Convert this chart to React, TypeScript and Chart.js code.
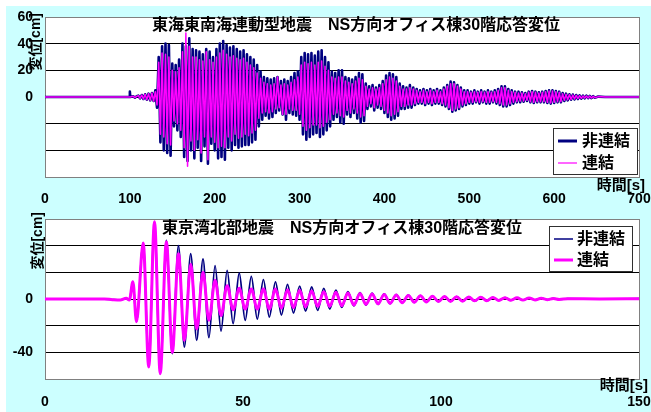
import React, { useEffect, useRef } from "react";
import { Chart, registerables } from "chart.js";

Chart.register(...registerables);

// ---------------- Data: 東海東南海連動型地震 (top) ----------------
const seriesNames = ["非連結", "連結"];

const tokaiXTicks = [0, 100, 200, 300, 400, 500, 600, 700];
const tokaiYTickLabels = [60, 40, 20, 0];

const tokaiLeadTimes = [0, 99.5, 100, 100.5, 104, 106, 108];
const tokaiLeadNonLinked = [0, 0, 4, 0, 0.5, -0.5, 0.5];
const tokaiLeadLinked = [0, 0, 0, 0, 0.5, -0.5, 0.5];

// samples every 2 s starting at 110 s
const tokaiStart = 110;
const tokaiStep = 2;
const tokaiNonLinked = [
  1, -1, 1.5, -1.5, 2, -2, 2.5, -2.5, 3, -3,
  5, -8, 30, -34, 38, -40, 40, -42, 39, -44,
  25, -22, 24, -25, 28, -30, 40, -45, 38, -48,
  44, -40, 36, -46, 35, -38, 34, -48, 32, -37,
  36, -50, 34, -35, 30, -40, 36, -46, 40, -45,
  42, -47, 39, -38, 37, -40, 38, -36, 36, -38,
  34, -37, 35, -36, 32, -36, 30, -34, 28, -32,
  24, -22, 19, -17, 15, -14, 14, -16, 13, -15,
  14, -12, 15, -10, 12, -13, 13, -17, 12, -12,
  15, -13, 18, -14, 19, -17, 30, -28, 33, -32,
  32, -30, 33, -28, 31, -27, 34, -30, 35, -28,
  30, -25, 26, -22, 19, -17, 18, -15, 20, -19,
  20, -20, 15, -13, 14, -15, 13, -12, 15, -16,
  18, -19, 17, -18, 10, -9, 8, -7, 9, -10,
  7, -8, 9, -9, 12, -12, 16, -15, 18, -17,
  17, -16, 15, -14, 10, -9, 8, -9, 7, -8,
  9, -8, 7, -6, 6, -5, 5, -5, 6, -6,
  5, -5, 6, -6, 5, -5, 6, -5, 5, -6,
  7, -7, 9, -9, 11.5, -11, 11, -10, 9, -9,
  7, -7, 5, -6, 5, -5, 4, -5, 5, -4,
  4, -5, 5, -4, 4, -5, 5, -5, 4, -4,
  5, -5, 6, -6, 8, -7, 8, -7, 6, -6,
  5, -5, 4, -4, 4, -4, 3.5, -3.5, 3, -3,
  4, -4, 4.5, -4.5, 4, -4, 3.5, -4, 4, -4,
  4.5, -4.5, 5, -5, 5, -4.5, 4.5, -4, 4, -4,
  3, -3, 2.5, -2.5, 2, -2, 1.8, -1.8, 1.5, -1.5,
  1.2, -1.2, 1, -1, 1, -0.8, 0.8, -0.8, 0.6, -0.6,
];
const tokaiLinked = [
  1, -1, 1.5, -1.5, 2, -2, 2.5, -2.5, 3, -3,
  4, -6, 26, -28, 33, -30, 32, -35, 30, -36,
  20, -18, 19, -20, 22, -25, 34, -38, 48, -52,
  38, -33, 30, -40, 30, -32, 28, -42, 27, -30,
  34, -47, 28, -30, 26, -34, 30, -38, 33, -37,
  35, -38, 32, -30, 30, -33, 31, -28, 29, -31,
  28, -30, 29, -28, 26, -29, 24, -27, 22, -25,
  18, -16, 14, -12, 11, -11, 10, -12, 9, -11,
  10, -9, 15, -8, 9, -13, 10, -13, 9, -9,
  11, -10, 13, -10, 15, -13, 24, -22, 26, -25,
  25, -23, 26, -21, 24, -21, 26, -23, 27, -22,
  23, -19, 20, -17, 15, -13, 14, -12, 15, -14,
  15, -15, 12, -10, 11, -12, 10, -9, 12, -12,
  14, -15, 13, -14, 8, -7, 6, -5, 7, -8,
  6, -6, 7, -7, 10, -10, 13, -12, 15, -14,
  14, -13, 12, -11, 8, -7, 6, -7, 6, -6,
  7, -6, 6, -5, 5, -4, 4, -4, 5, -5,
  4, -4, 5, -5, 4, -4, 5, -4, 4, -5,
  6, -6, 8, -8, 10, -10, 10, -9, 8, -8,
  6, -6, 4, -5, 4, -4, 3.5, -4, 4, -3.5,
  3.5, -4, 4, -3.5, 3.5, -4, 4, -4, 3.5, -3.5,
  4, -4, 5, -5, 7, -6, 7, -6, 5, -5,
  4, -4, 3.5, -3.5, 3, -3, 3, -3, 2.5, -2.5,
  3.5, -3.5, 4, -4, 3.5, -3.5, 3, -3.5, 3.5, -3.5,
  4, -4, 4.5, -4.5, 4.5, -4, 4, -3.5, 3.5, -3.5,
  2.5, -2.5, 2, -2, 1.8, -1.8, 1.5, -1.5, 1.2, -1.2,
  1, -1, 0.8, -0.8, 0.8, -0.7, 0.7, -0.7, 0.5, -0.5,
];

const tokaiTailTimes = [652, 660, 700];
const tokaiTailNonLinked = [0.3, 0, 0];
const tokaiTailLinked = [0.3, 0, 0];

// ---------------- Data: 東京湾北部地震 (bottom) ----------------
const kantoXTicks = [0, 50, 100, 150];
const kantoYTickLabels = [0, -40];

const kantoTimes = [
  0, 15, 17, 19, 20.5, 21.3, 22.2, 23.1, 24.8, 26.2,
  27.65, 29.1, 30.65, 32.15, 33.7, 35.2, 36.8, 38.3, 39.9, 41.4,
  42.95, 44.45, 46.0, 47.5, 49.05, 50.55, 52.1, 53.6, 55.15, 56.65,
  58.2, 59.7, 61.25, 62.75, 64.3, 65.8, 67.35, 68.85, 70.4, 71.9,
  73.45, 74.95, 76.5, 78.0, 79.55, 81.05, 82.6, 84.1, 85.65, 87.15,
  88.7, 90.2, 91.75, 93.25, 94.8, 96.3, 97.85, 99.35, 100.9, 102.4,
  103.95, 105.45, 107.0, 108.5, 110.05, 111.55, 113.1, 114.6, 116.15, 117.65,
  119.2, 120.7, 122.25, 123.75, 125.3, 126.8, 128.35, 129.85, 132, 140,
  150,
];
const kantoNonLinked = [
  0, 0, -0.5, -0.8, 0.5, -0.8, 13, -17, 42, -51,
  58, -56, 44, -41, 40, -36, 34, -31, 30, -29,
  25, -24, 21.5, -18.5, 19.5, -16, 17, -15, 14.5, -13.5,
  12.8, -12, 11, -10.5, 9.6, -9, 9, -8.5, 8, -7.5,
  6.7, -6.3, 5.5, -5.2, 4.8, -4.5, 4.4, -4, 3.8, -3.5,
  3.2, -3, 2.8, -2.6, 2.5, -2.3, 2.1, -2, 1.9, -1.8,
  1.7, -1.6, 1.5, -1.5, 1.4, -1.3, 1.2, -1.1, 1.0, -1,
  0.9, -0.8, 0.8, -0.7, 0.6, -0.5, 0.4, -0.3, 0.2, 0,
  0.2,
];
const kantoLinked = [
  0, 0, -0.5, -0.8, 0.5, -0.8, 13, -17, 42, -51,
  58, -56, 43, -40, 34, -31, 26, -22.5, 20, -16,
  14, -12.5, 10, -8, 8, -7.5, 7.5, -7.5, 7.5, -7.5,
  7.5, -7, 7, -6.5, 6.5, -6, 6, -5.5, 5.5, -5.5,
  5, -5, 4.5, -4.5, 4.2, -4, 3.8, -3.6, 3.4, -3.2,
  3, -2.8, 2.7, -2.5, 2.4, -2.2, 2.0, -1.9, 1.9, -1.8,
  1.7, -1.6, 1.5, -1.4, 1.4, -1.3, 1.2, -1.1, 1.0, -1,
  0.9, -0.8, 0.8, -0.7, 0.6, -0.5, 0.4, -0.3, 0.2, 0,
  0.2,
];

// ---------------- Styling ----------------
const NAVY = "#000080";
const MAGENTA = "#FF00FF";
const BG = "#CCFFFF";
const FONT_FAMILY = '"Liberation Sans", "Noto Sans CJK JP", Arial, sans-serif';

const decorPlugin = {
  id: "decor",
  beforeDraw(chart: any) {
    const { ctx, chartArea: a } = chart;
    ctx.save();
    ctx.fillStyle = "#ffffff";
    ctx.fillRect(a.left, a.top, a.right - a.left, a.bottom - a.top);
    ctx.restore();
  },
  beforeDatasetsDraw(chart: any) {
    const { ctx, chartArea: a } = chart;
    ctx.save();
    ctx.strokeStyle = "#808080";
    ctx.lineWidth = 1;
    ctx.strokeRect(Math.round(a.left) + 0.5, Math.round(a.top) + 0.5, Math.round(a.right - a.left), Math.round(a.bottom - a.top));
    ctx.restore();
  },
  afterDatasetsDraw(chart: any, _args: any, o: any) {
    const { ctx } = chart;
    ctx.save();
    ctx.fillStyle = "#000";
    // title
    ctx.font = `bold 16px ${FONT_FAMILY}`;
    ctx.textAlign = "left";
    ctx.textBaseline = "middle";
    ctx.fillText(o.title, o.titleX, o.titleY);
    // x title
    ctx.font = `bold 15px ${FONT_FAMILY}`;
    ctx.textAlign = "right";
    ctx.fillText(o.xTitle, o.xTitleRight, o.xTitleY);
    // y title
    ctx.save();
    ctx.font = `bold 14px ${FONT_FAMILY}`;
    ctx.translate(o.yTitleX, o.yTitleTop);
    ctx.rotate(-Math.PI / 2);
    ctx.textAlign = "right";
    ctx.textBaseline = "middle";
    ctx.fillText(o.yTitle, 0, 0);
    ctx.restore();
    // legend
    const L = o.legend;
    ctx.fillStyle = "#fff";
    ctx.fillRect(L.left, L.top, L.w, L.h);
    ctx.strokeStyle = "#303030";
    ctx.lineWidth = 1;
    ctx.strokeRect(L.left + 0.5, L.top + 0.5, L.w, L.h);
    const rows = [
      { y: L.top + L.row1, color: NAVY, width: L.navyWidth, label: seriesNames[0] },
      { y: L.top + L.row2, color: MAGENTA, width: L.magentaWidth, label: seriesNames[1] },
    ];
    ctx.font = `bold 16px ${FONT_FAMILY}`;
    ctx.textAlign = "left";
    ctx.textBaseline = "middle";
    for (const r of rows) {
      ctx.strokeStyle = r.color;
      ctx.lineWidth = r.width;
      ctx.beginPath();
      ctx.moveTo(L.left + 5, r.y);
      ctx.lineTo(L.left + 24, r.y);
      ctx.stroke();
      ctx.fillStyle = "#000";
      ctx.fillText(r.label, L.left + L.textOffset, r.y + 1);
    }
    ctx.restore();
  },
};

function toPoints(times: number[], values: number[]) {
  return times.map((t, i) => ({ x: t, y: values[i] }));
}

function zeroPadding(s: any) {
  s.paddingTop = 0;
  s.paddingBottom = 0;
  s.paddingLeft = 0;
  s.paddingRight = 0;
}

function buildConfig(p: any) {
  const tickFont = { family: FONT_FAMILY, size: 14, weight: "bold" as const };
  return {
    type: "line" as const,
    data: {
      datasets: [
        {
          label: seriesNames[0],
          data: p.nonLinked,
          borderColor: NAVY,
          borderWidth: p.navyWidth,
          pointRadius: 0,
          order: 2,
          borderJoinStyle: "round" as const,
          cubicInterpolationMode: p.smooth ? ("monotone" as const) : ("default" as const),
          tension: 0,
        },
        {
          label: seriesNames[1],
          data: p.linked,
          borderColor: MAGENTA,
          borderWidth: p.magentaWidth,
          pointRadius: 0,
          order: 1,
          borderJoinStyle: "round" as const,
          cubicInterpolationMode: p.smooth ? ("monotone" as const) : ("default" as const),
          tension: 0,
        },
      ],
    },
    options: {
      animation: false as const,
      responsive: false,
      events: [],
      layout: { padding: { left: 0, right: 12, top: p.padTop, bottom: 0 } },
      plugins: {
        legend: { display: false },
        title: { display: false },
        tooltip: { enabled: false },
        decor: p.decor,
      },
      scales: {
        x: {
          type: "linear" as const,
          min: p.xTicks[0],
          max: p.xTicks[p.xTicks.length - 1],
          afterBuildTicks: (s: any) => {
            s.ticks = p.xTicks.map((v: number) => ({ value: v }));
          },
          ticks: {
            autoSkip: false,
            maxRotation: 0,
            padding: p.xPad,
            color: "#000",
            font: tickFont,
          },
          grid: { display: false, drawTicks: false },
          border: { display: false },
          afterFit: (s: any) => {
            s.height = p.xHeight;
            zeroPadding(s);
          },
        },
        y: {
          type: "linear" as const,
          min: -60,
          max: 60,
          ticks: {
            stepSize: 20,
            padding: 12,
            color: "#000",
            font: tickFont,
            callback: (v: any) => (p.yLabels.includes(v) ? String(v) : ""),
          },
          grid: {
            drawTicks: false,
            lineWidth: 1,
            color: (c: any) => (c.tick && Math.abs(c.tick.value) === 60 ? "#808080" : "#000000"),
          },
          border: { display: false },
          afterFit: (s: any) => {
            s.width = 39;
            zeroPadding(s);
          },
        },
      },
    },
    plugins: [decorPlugin],
  };
}

const topConfig = () =>
  buildConfig({
    nonLinked: [
      ...toPoints(tokaiLeadTimes, tokaiLeadNonLinked),
      ...tokaiNonLinked.map((v, i) => ({ x: tokaiStart + i * tokaiStep, y: v })),
      ...toPoints(tokaiTailTimes, tokaiTailNonLinked),
    ],
    linked: [
      ...toPoints(tokaiLeadTimes, tokaiLeadLinked),
      ...tokaiLinked.map((v, i) => ({ x: tokaiStart + i * tokaiStep, y: v })),
      ...toPoints(tokaiTailTimes, tokaiTailLinked),
    ],
    navyWidth: 2.6,
    magentaWidth: 1.5,
    smooth: false,
    xTicks: tokaiXTicks,
    yLabels: tokaiYTickLabels,
    padTop: 11,
    xHeight: 29,
    xPad: 14,
    decor: {
      title: "東海東南海連動型地震　NS方向オフィス棟30階応答変位",
      titleX: 146,
      titleY: 19.5,
      xTitle: "時間[s]",
      xTitleRight: 639,
      xTitleY: 180,
      yTitle: "変位[cm]",
      yTitleX: 30,
      yTitleTop: 7,
      legend: { left: 547, top: 122, w: 84, h: 46, row1: 13, row2: 35, textOffset: 29, navyWidth: 3, magentaWidth: 1.2 },
    },
  });

const bottomConfig = () =>
  buildConfig({
    nonLinked: toPoints(kantoTimes, kantoNonLinked),
    linked: toPoints(kantoTimes, kantoLinked),
    navyWidth: 1.8,
    magentaWidth: 3,
    smooth: true,
    xTicks: kantoXTicks,
    yLabels: kantoYTickLabels,
    padTop: 13,
    xHeight: 33,
    xPad: 15,
    decor: {
      title: "東京湾北部地震　NS方向オフィス棟30階応答変位",
      titleX: 156,
      titleY: 22.5,
      xTitle: "時間[s]",
      xTitleRight: 642,
      xTitleY: 180,
      yTitle: "変位[cm]",
      yTitleX: 32,
      yTitleTop: 6,
      legend: { left: 543, top: 20, w: 83, h: 45, row1: 13, row2: 34, textOffset: 28, navyWidth: 1.5, magentaWidth: 3 },
    },
  });

function ChartCanvas({ makeConfig, width, height, top }: { makeConfig: () => any; width: number; height: number; top: number }) {
  const ref = useRef<HTMLCanvasElement>(null);
  useEffect(() => {
    const chart = new Chart(ref.current as HTMLCanvasElement, makeConfig());
    return () => chart.destroy();
  }, []);
  return (
    <canvas
      ref={ref}
      width={width}
      height={height}
      style={{ position: "absolute", left: 0, top, width, height, display: "block" }}
    />
  );
}

export default function App() {
  return (
    <div
      style={{
        position: "absolute",
        left: 6,
        top: 6,
        width: 645,
        height: 406,
        background: BG,
        overflow: "hidden",
      }}
    >
      <ChartCanvas makeConfig={topConfig} width={645} height={200} top={0} />
      <ChartCanvas makeConfig={bottomConfig} width={645} height={206} top={200} />
    </div>
  );
}
